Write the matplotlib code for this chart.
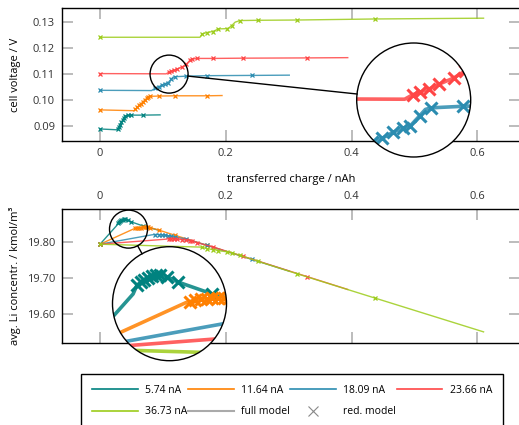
import matplotlib
matplotlib.use('Agg')
import matplotlib.pyplot as plt
from matplotlib.lines import Line2D
from matplotlib.patches import Circle
from matplotlib.transforms import IdentityTransform

plt.rcParams['font.family'] = ['Open Sans', 'DejaVu Sans']
plt.rcParams['font.size'] = 8

currents = ['5.74 nA', '11.64 nA', '18.09 nA', '23.66 nA', '36.73 nA']
colors = ['#00827f', '#ff8000', '#2b8cb0', '#ff4545', '#9ccc1a']

# transferred charge / nAh, cell voltage / V, avg. Li concentration / kmol/m^3
q_574 = [0, 0.026, 0.028, 0.030, 0.032, 0.034, 0.036, 0.038, 0.040, 0.044, 0.050, 0.068, 0.0955]
v_574 = [0.0889, 0.0886, 0.0890, 0.0898, 0.0906, 0.0915, 0.0924, 0.0932, 0.0938, 0.0941, 0.0942, 0.0942, 0.0943]
c_574 = [19.794, 19.845, 19.853, 19.856, 19.858, 19.860, 19.862, 19.863, 19.863, 19.861, 19.856, 19.845, 19.832]
red_574 = [0, 2, 3, 4, 5, 6, 7, 8, 9, 10, 11]

q_1164 = [0, 0.054, 0.056, 0.059, 0.062, 0.065, 0.068, 0.071, 0.074, 0.077, 0.080, 0.094, 0.119, 0.17, 0.194]
v_1164 = [0.0962, 0.0959, 0.0964, 0.0972, 0.0979, 0.0985, 0.0992, 0.0999, 0.1006, 0.1012, 0.1014, 0.1015, 0.1016, 0.1016, 0.1017]
c_1164 = [19.794, 19.837, 19.838, 19.839, 19.840, 19.840, 19.841, 19.841, 19.841, 19.841, 19.840, 19.833, 19.819, 19.791, 19.778]
red_1164 = [0, 2, 3, 4, 5, 6, 7, 8, 9, 10, 11, 12, 13]

q_1809 = [0, 0.082, 0.0875, 0.093, 0.099, 0.104, 0.108, 0.113, 0.116, 0.119, 0.136, 0.17, 0.241, 0.301]
v_1809 = [0.1037, 0.1036, 0.1045, 0.1050, 0.1058, 0.1063, 0.1066, 0.1079, 0.1087, 0.1089, 0.1091, 0.1093, 0.1094, 0.1095]
c_1809 = [19.794, 19.820, 19.821, 19.821, 19.820, 19.819, 19.818, 19.816, 19.815, 19.814, 19.809, 19.791, 19.752, 19.719]
red_1809 = [0, 2, 3, 4, 5, 6, 7, 9, 10, 11, 12]

q_2366 = [0, 0.105, 0.108, 0.1096, 0.113, 0.118, 0.123, 0.131, 0.137, 0.143, 0.147, 0.155, 0.18, 0.228, 0.329, 0.394]
v_2366 = [0.1101, 0.1100, 0.1104, 0.1106, 0.1109, 0.1113, 0.1119, 0.1127, 0.1136, 0.1152, 0.1157, 0.1159, 0.1159, 0.1160, 0.1161, 0.1162]
c_2366 = [19.794, 19.808, 19.809, 19.809, 19.809, 19.808, 19.808, 19.807, 19.806, 19.804, 19.802, 19.798, 19.786, 19.760, 19.704, 19.668]
red_2366 = [0, 3, 4, 5, 6, 7, 8, 9, 10, 11, 12, 13, 14]

q_3673 = [0, 0.159, 0.1623, 0.170, 0.179, 0.184, 0.188, 0.2015, 0.205, 0.2095, 0.215, 0.2228, 0.252, 0.313, 0.4375, 0.61]
v_3673 = [0.1240, 0.1240, 0.1253, 0.1258, 0.1262, 0.1267, 0.1272, 0.1273, 0.1276, 0.1285, 0.1298, 0.1304, 0.1305, 0.1306, 0.1310, 0.1313]
c_3673 = [19.794, 19.786, 19.785, 19.782, 19.779, 19.778, 19.776, 19.773, 19.772, 19.770, 19.767, 19.763, 19.746, 19.712, 19.644, 19.550]
red_3673 = [0, 2, 3, 4, 6, 7, 9, 11, 12, 13, 14]

series = list(zip(colors,
                  [q_574, q_1164, q_1809, q_2366, q_3673],
                  [v_574, v_1164, v_1809, v_2366, v_3673],
                  [c_574, c_1164, c_1809, c_2366, c_3673],
                  [red_574, red_1164, red_1809, red_2366, red_3673]))

W, H = 519, 425
fig = plt.figure(figsize=(W / 100, H / 100), dpi=100)


def px_rect(left, top, right, bottom):
    return [left / W, 1 - bottom / H, (right - left) / W, (bottom - top) / H]


def style_axes(ax, labels_top):
    for s in ax.spines.values():
        s.set_linewidth(1.0)
    ax.tick_params(direction='in', length=8, width=1.1, color='#aaaaaa',
                   top=True, bottom=True, left=True, right=True,
                   labeltop=labels_top, labelbottom=not labels_top,
                   labelsize=8, pad=5, labelcolor='#333333')
    ax.set_xlim(-0.0605, 0.668)
    ax.set_xticks([0, 0.2, 0.4, 0.6])
    ax.set_xticklabels(['0', '0.2', '0.4', '0.6'])


def draw_curves(ax, which, lw, ms, mew, clip=None):
    artists = []
    for color, q, v, c, red in series:
        y = v if which == 'v' else c
        artists += ax.plot(q, y, color=color, lw=lw, alpha=0.85)
        artists += ax.plot([q[i] for i in red], [y[i] for i in red], ls='none',
                           marker='x', color=color, ms=ms, mew=mew)
    if clip is not None:
        for a in artists:
            a.set_clip_path(clip)


def magnifier(ax, which, center, radius, big_center, mag):
    cx, cy = ax.transData.transform(center)
    bx, by = big_center[0], H - big_center[1]
    R = radius * mag
    inv = ax.transData.inverted()
    (x0, y0), (x1, y1) = inv.transform([(cx - radius, cy - radius), (cx + radius, cy + radius)])
    axin = fig.add_axes([(bx - R) / W, (by - R) / H, 2 * R / W, 2 * R / H], zorder=5)
    axin.set_xlim(x0, x1)
    axin.set_ylim(y0, y1)
    axin.axis('off')
    disc = Circle((0.5, 0.5), 0.5, transform=axin.transAxes, fc='white', ec='none', zorder=0)
    axin.add_patch(disc)
    draw_curves(axin, which, 2.6, 8, 2.2, clip=disc)
    axin.add_patch(Circle((0.5, 0.5), 0.5, transform=axin.transAxes, fc='none',
                          ec='black', lw=1, zorder=10, clip_on=False))
    fig.add_artist(Circle((cx, cy), radius, transform=IdentityTransform(),
                          fc='none', ec='black', lw=1, zorder=6))
    d = ((bx - cx) ** 2 + (by - cy) ** 2) ** 0.5
    ux, uy = (bx - cx) / d, (by - cy) / d
    fig.add_artist(Line2D([cx + ux * radius, bx - ux * R], [cy + uy * radius, by - uy * R],
                          transform=IdentityTransform(), color='black', lw=1, zorder=6))


# cell voltage
ax_v = fig.add_axes(px_rect(62, 8, 520, 141))
style_axes(ax_v, labels_top=False)
ax_v.set_ylim(0.0843, 0.1352)
ax_v.set_yticks([0.09, 0.10, 0.11, 0.12, 0.13])
ax_v.set_yticklabels(['0.09', '0.10', '0.11', '0.12', '0.13'])
draw_curves(ax_v, 'v', 1.0, 3.5, 0.9)
ax_v.set_ylabel('cell voltage / V', fontsize=8)
ax_v.yaxis.set_label_coords(-0.09, 0.5)
ax_v.set_xlabel('transferred charge / nAh', fontsize=8, labelpad=11)

# lithium concentration
ax_c = fig.add_axes(px_rect(62, 209, 520, 343))
style_axes(ax_c, labels_top=True)
ax_c.set_ylim(19.519, 19.892)
ax_c.set_yticks([19.6, 19.7, 19.8])
ax_c.set_yticklabels(['19.60', '19.70', '19.80'])
draw_curves(ax_c, 'c', 1.0, 3.5, 0.9)
ax_c.set_ylabel('avg. Li concentr. / kmol/m³', fontsize=8)
ax_c.yaxis.set_label_coords(-0.09, 0.5)

magnifier(ax_v, 'v', (0.1098, 0.1099), 19, (413.7, 100), 3.0)
magnifier(ax_c, 'c', (0.0453, 19.836), 19, (169.5, 303.7), 3.0)

handles = [Line2D([], [], color=c, lw=1.2) for c in colors]
handles.append(Line2D([], [], color='#aaaaaa', lw=1.5))
handles.append(Line2D([], [], color='#888888', ls='none', marker='x', ms=7, mew=0.8))
labels = currents + ['full model', 'red. model']
order = [0, 4, 1, 5, 2, 6, 3]
leg = fig.legend([handles[i] for i in order], [labels[i] for i in order], ncol=4,
                 loc='upper left', bbox_to_anchor=px_rect(81, 374, 503, 425), mode='expand',
                 frameon=True, fancybox=False, edgecolor='black', framealpha=1,
                 handlelength=4.4, handletextpad=0.7, borderaxespad=0,
                 labelspacing=1.0, borderpad=1.05, fontsize=7.5)
leg.get_frame().set_linewidth(1)

fig.savefig('out.png', dpi=100)
